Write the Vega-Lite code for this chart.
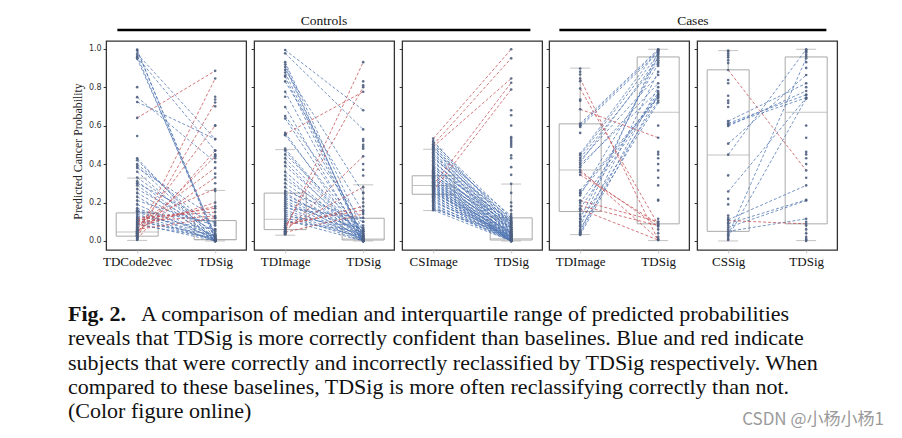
{
"$schema":"https://vega.github.io/schema/vega-lite/v6.json",
"padding":{"left":68,"top":13,"right":6,"bottom":5},
"background":"white",
"config":{"view":{"stroke":"#333333","strokeWidth":1.3},"axis":{"grid":false},"concat":{"spacing":2}},
"datasets":{
"boxes":[
{"p":1,"x":0,"lo":0.003,"q1":0.025,"med":0.047,"q3":0.146,"hi":0.327},
{"p":1,"x":1,"lo":0.0,"q1":0.006,"med":0.008,"q3":0.106,"hi":0.263},
{"p":2,"x":0,"lo":0.03,"q1":0.059,"med":0.113,"q3":0.249,"hi":0.475},
{"p":2,"x":1,"lo":0.0,"q1":0.005,"med":0.01,"q3":0.118,"hi":0.292},
{"p":3,"x":0,"lo":0.158,"q1":0.243,"med":0.289,"q3":0.339,"hi":0.477},
{"p":3,"x":1,"lo":0.0,"q1":0.005,"med":0.012,"q3":0.12,"hi":0.296},
{"p":4,"x":0,"lo":0.033,"q1":0.153,"med":0.369,"q3":0.609,"hi":0.899},
{"p":4,"x":1,"lo":0.002,"q1":0.089,"med":0.67,"q3":0.957,"hi":0.997},
{"p":5,"x":0,"lo":0.0,"q1":0.05,"med":0.447,"q3":0.89,"hi":0.99},
{"p":5,"x":1,"lo":0.002,"q1":0.089,"med":0.67,"q3":0.957,"hi":0.997}
],
"pairs":[
{"p":1,"a":0.995,"b":0.005,"c":"b"},{"p":1,"a":0.99,"b":0.02,"c":"b"},{"p":1,"a":0.974,"b":0.53,"c":"b"},{"p":1,"a":0.962,"b":0.01,"c":"b"},{"p":1,"a":0.956,"b":0.47,"c":"b"},{"p":1,"a":0.948,"b":0.03,"c":"b"},{"p":1,"a":0.748,"b":0.41,"c":"b"},{"p":1,"a":0.723,"b":0.53,"c":"b"},{"p":1,"a":0.43,"b":0.0,"c":"b"},{"p":1,"a":0.42,"b":0.02,"c":"b"},{"p":1,"a":0.4,"b":0.06,"c":"b"},{"p":1,"a":0.39,"b":0.01,"c":"b"},{"p":1,"a":0.38,"b":0.12,"c":"b"},{"p":1,"a":0.36,"b":0.0,"c":"b"},{"p":1,"a":0.33,"b":0.04,"c":"b"},{"p":1,"a":0.31,"b":0.01,"c":"b"},{"p":1,"a":0.3,"b":0.09,"c":"b"},{"p":1,"a":0.29,"b":0.0,"c":"b"},{"p":1,"a":0.27,"b":0.05,"c":"b"},{"p":1,"a":0.25,"b":0.02,"c":"b"},{"p":1,"a":0.23,"b":0.0,"c":"b"},{"p":1,"a":0.21,"b":0.08,"c":"b"},{"p":1,"a":0.19,"b":0.01,"c":"b"},{"p":1,"a":0.17,"b":0.03,"c":"b"},{"p":1,"a":0.16,"b":0.0,"c":"b"},{"p":1,"a":0.155,"b":0.1,"c":"b"},{"p":1,"a":0.15,"b":0.02,"c":"b"},{"p":1,"a":0.14,"b":0.0,"c":"b"},{"p":1,"a":0.13,"b":0.06,"c":"b"},{"p":1,"a":0.12,"b":0.01,"c":"b"},{"p":1,"a":0.11,"b":0.005,"c":"b"},{"p":1,"a":0.1,"b":0.03,"c":"b"},{"p":1,"a":0.09,"b":0.0,"c":"b"},{"p":1,"a":0.085,"b":0.015,"c":"b"},
{"p":1,"a":0.64,"b":0.885,"c":"r"},{"p":1,"a":0.03,"b":0.845,"c":"r"},{"p":1,"a":0.02,"b":0.72,"c":"r"},{"p":1,"a":0.06,"b":0.6,"c":"r"},{"p":1,"a":0.01,"b":0.47,"c":"r"},{"p":1,"a":0.04,"b":0.44,"c":"r"},{"p":1,"a":0.08,"b":0.38,"c":"r"},{"p":1,"a":0.05,"b":0.33,"c":"r"},{"p":1,"a":0.1,"b":0.27,"c":"r"},{"p":1,"a":0.07,"b":0.2,"c":"r"},{"p":1,"a":0.09,"b":0.18,"c":"r"},{"p":1,"a":0.11,"b":0.17,"c":"r"},{"p":1,"a":0.12,"b":0.15,"c":"r"},{"p":1,"a":0.1,"b":0.13,"c":"r"},{"p":1,"a":0.06,"b":0.12,"c":"r"},
{"p":1,"a":0.8,"b":0.75,"c":"n"},{"p":1,"a":0.546,"b":0.736,"c":"n"},{"p":1,"a":0.02,"b":0.7,"c":"n"},{"p":1,"a":0.01,"b":0.6,"c":"n"},{"p":1,"a":0.03,"b":0.45,"c":"n"},{"p":1,"a":0.04,"b":0.445,"c":"n"},{"p":1,"a":0.05,"b":0.43,"c":"n"},{"p":1,"a":0.06,"b":0.35,"c":"n"},{"p":1,"a":0.015,"b":0.3,"c":"n"},{"p":1,"a":0.025,"b":0.26,"c":"n"},{"p":1,"a":0.035,"b":0.01,"c":"n"},{"p":1,"a":0.045,"b":0.0,"c":"n"},{"p":1,"a":0.05,"b":0.005,"c":"n"},{"p":1,"a":0.055,"b":0.01,"c":"n"},{"p":1,"a":0.04,"b":0.0,"c":"n"},{"p":1,"a":0.03,"b":0.008,"c":"n"},{"p":1,"a":0.02,"b":0.003,"c":"n"},{"p":1,"a":0.01,"b":0.0,"c":"n"},{"p":1,"a":0.005,"b":0.002,"c":"n"},{"p":1,"a":0.065,"b":0.004,"c":"n"},{"p":1,"a":0.07,"b":0.0,"c":"n"},{"p":1,"a":0.075,"b":0.006,"c":"n"},
{"p":2,"a":0.993,"b":0.68,"c":"b"},{"p":2,"a":0.976,"b":0.58,"c":"b"},{"p":2,"a":0.93,"b":0.05,"c":"b"},{"p":2,"a":0.918,"b":0.0,"c":"b"},{"p":2,"a":0.905,"b":0.01,"c":"b"},{"p":2,"a":0.89,"b":0.25,"c":"b"},{"p":2,"a":0.876,"b":0.02,"c":"b"},{"p":2,"a":0.855,"b":0.0,"c":"b"},{"p":2,"a":0.83,"b":0.15,"c":"b"},{"p":2,"a":0.776,"b":0.03,"c":"b"},{"p":2,"a":0.697,"b":0.0,"c":"b"},{"p":2,"a":0.65,"b":0.1,"c":"b"},{"p":2,"a":0.637,"b":0.02,"c":"b"},{"p":2,"a":0.563,"b":0.0,"c":"b"},{"p":2,"a":0.55,"b":0.04,"c":"b"},{"p":2,"a":0.48,"b":0.01,"c":"b"},{"p":2,"a":0.47,"b":0.0,"c":"b"},{"p":2,"a":0.45,"b":0.06,"c":"b"},{"p":2,"a":0.43,"b":0.02,"c":"b"},{"p":2,"a":0.41,"b":0.0,"c":"b"},{"p":2,"a":0.39,"b":0.03,"c":"b"},{"p":2,"a":0.36,"b":0.01,"c":"b"},{"p":2,"a":0.34,"b":0.0,"c":"b"},{"p":2,"a":0.32,"b":0.05,"c":"b"},{"p":2,"a":0.3,"b":0.02,"c":"b"},{"p":2,"a":0.28,"b":0.0,"c":"b"},{"p":2,"a":0.26,"b":0.1,"c":"b"},{"p":2,"a":0.25,"b":0.01,"c":"b"},{"p":2,"a":0.24,"b":0.04,"c":"b"},{"p":2,"a":0.23,"b":0.0,"c":"b"},{"p":2,"a":0.22,"b":0.08,"c":"b"},{"p":2,"a":0.21,"b":0.02,"c":"b"},{"p":2,"a":0.2,"b":0.005,"c":"b"},{"p":2,"a":0.19,"b":0.06,"c":"b"},{"p":2,"a":0.18,"b":0.0,"c":"b"},{"p":2,"a":0.17,"b":0.12,"c":"b"},{"p":2,"a":0.16,"b":0.03,"c":"b"},{"p":2,"a":0.15,"b":0.01,"c":"b"},{"p":2,"a":0.14,"b":0.0,"c":"b"},{"p":2,"a":0.13,"b":0.07,"c":"b"},{"p":2,"a":0.12,"b":0.02,"c":"b"},{"p":2,"a":0.11,"b":0.0,"c":"b"},{"p":2,"a":0.1,"b":0.05,"c":"b"},
{"p":2,"a":0.555,"b":0.776,"c":"r"},{"p":2,"a":0.06,"b":0.93,"c":"r"},{"p":2,"a":0.07,"b":0.8,"c":"r"},{"p":2,"a":0.05,"b":0.44,"c":"r"},{"p":2,"a":0.065,"b":0.28,"c":"r"},{"p":2,"a":0.08,"b":0.18,"c":"r"},{"p":2,"a":0.045,"b":0.14,"c":"r"},{"p":2,"a":0.09,"b":0.16,"c":"r"},
{"p":2,"a":0.86,"b":0.83,"c":"n"},{"p":2,"a":0.75,"b":0.81,"c":"n"},{"p":2,"a":0.035,"b":0.53,"c":"n"},{"p":2,"a":0.04,"b":0.52,"c":"n"},{"p":2,"a":0.045,"b":0.5,"c":"n"},{"p":2,"a":0.05,"b":0.49,"c":"n"},{"p":2,"a":0.055,"b":0.48,"c":"n"},{"p":2,"a":0.06,"b":0.4,"c":"n"},{"p":2,"a":0.07,"b":0.37,"c":"n"},{"p":2,"a":0.04,"b":0.34,"c":"n"},{"p":2,"a":0.05,"b":0.25,"c":"n"},{"p":2,"a":0.06,"b":0.22,"c":"n"},{"p":2,"a":0.07,"b":0.2,"c":"n"},{"p":2,"a":0.08,"b":0.0,"c":"n"},{"p":2,"a":0.09,"b":0.01,"c":"n"},{"p":2,"a":0.1,"b":0.0,"c":"n"},{"p":2,"a":0.035,"b":0.005,"c":"n"},
{"p":3,"a":0.52,"b":0.08,"c":"b"},{"p":3,"a":0.512,"b":0.12,"c":"b"},{"p":3,"a":0.503,"b":0.1,"c":"b"},{"p":3,"a":0.494,"b":0.06,"c":"b"},{"p":3,"a":0.488,"b":0.11,"c":"b"},{"p":3,"a":0.481,"b":0.04,"c":"b"},{"p":3,"a":0.476,"b":0.09,"c":"b"},{"p":3,"a":0.47,"b":0.13,"c":"b"},{"p":3,"a":0.462,"b":0.07,"c":"b"},{"p":3,"a":0.455,"b":0.02,"c":"b"},{"p":3,"a":0.449,"b":0.1,"c":"b"},{"p":3,"a":0.441,"b":0.05,"c":"b"},{"p":3,"a":0.434,"b":0.08,"c":"b"},{"p":3,"a":0.428,"b":0.12,"c":"b"},{"p":3,"a":0.42,"b":0.03,"c":"b"},{"p":3,"a":0.413,"b":0.06,"c":"b"},{"p":3,"a":0.407,"b":0.1,"c":"b"},{"p":3,"a":0.399,"b":0.01,"c":"b"},{"p":3,"a":0.392,"b":0.07,"c":"b"},{"p":3,"a":0.386,"b":0.09,"c":"b"},{"p":3,"a":0.38,"b":0.04,"c":"b"},{"p":3,"a":0.374,"b":0.11,"c":"b"},{"p":3,"a":0.368,"b":0.02,"c":"b"},{"p":3,"a":0.362,"b":0.06,"c":"b"},{"p":3,"a":0.357,"b":0.08,"c":"b"},{"p":3,"a":0.351,"b":0.01,"c":"b"},{"p":3,"a":0.346,"b":0.05,"c":"b"},{"p":3,"a":0.34,"b":0.1,"c":"b"},{"p":3,"a":0.336,"b":0.03,"c":"b"},{"p":3,"a":0.331,"b":0.07,"c":"b"},{"p":3,"a":0.326,"b":0.0,"c":"b"},{"p":3,"a":0.322,"b":0.04,"c":"b"},{"p":3,"a":0.317,"b":0.09,"c":"b"},{"p":3,"a":0.313,"b":0.02,"c":"b"},{"p":3,"a":0.309,"b":0.06,"c":"b"},{"p":3,"a":0.305,"b":0.01,"c":"b"},{"p":3,"a":0.301,"b":0.04,"c":"b"},{"p":3,"a":0.297,"b":0.0,"c":"b"},{"p":3,"a":0.293,"b":0.07,"c":"b"},{"p":3,"a":0.289,"b":0.02,"c":"b"},{"p":3,"a":0.285,"b":0.0,"c":"b"},{"p":3,"a":0.281,"b":0.05,"c":"b"},{"p":3,"a":0.277,"b":0.01,"c":"b"},{"p":3,"a":0.273,"b":0.03,"c":"b"},{"p":3,"a":0.269,"b":0.0,"c":"b"},{"p":3,"a":0.265,"b":0.04,"c":"b"},{"p":3,"a":0.261,"b":0.01,"c":"b"},{"p":3,"a":0.257,"b":0.0,"c":"b"},{"p":3,"a":0.252,"b":0.02,"c":"b"},{"p":3,"a":0.247,"b":0.05,"c":"b"},{"p":3,"a":0.243,"b":0.0,"c":"b"},{"p":3,"a":0.238,"b":0.01,"c":"b"},{"p":3,"a":0.232,"b":0.03,"c":"b"},{"p":3,"a":0.226,"b":0.0,"c":"b"},{"p":3,"a":0.22,"b":0.02,"c":"b"},{"p":3,"a":0.213,"b":0.0,"c":"b"},{"p":3,"a":0.207,"b":0.01,"c":"b"},{"p":3,"a":0.2,"b":0.04,"c":"b"},{"p":3,"a":0.193,"b":0.0,"c":"b"},{"p":3,"a":0.186,"b":0.02,"c":"b"},{"p":3,"a":0.179,"b":0.0,"c":"b"},{"p":3,"a":0.172,"b":0.01,"c":"b"},{"p":3,"a":0.166,"b":0.03,"c":"b"},{"p":3,"a":0.16,"b":0.0,"c":"b"},
{"p":3,"a":0.532,"b":0.997,"c":"r"},{"p":3,"a":0.5,"b":0.95,"c":"r"},{"p":3,"a":0.49,"b":0.845,"c":"r"},{"p":3,"a":0.29,"b":0.823,"c":"r"},{"p":3,"a":0.26,"b":0.788,"c":"r"},
{"p":3,"a":0.33,"b":0.68,"c":"n"},{"p":3,"a":0.31,"b":0.654,"c":"n"},{"p":3,"a":0.35,"b":0.6,"c":"n"},{"p":3,"a":0.28,"b":0.54,"c":"n"},{"p":3,"a":0.36,"b":0.53,"c":"n"},{"p":3,"a":0.25,"b":0.52,"c":"n"},{"p":3,"a":0.38,"b":0.51,"c":"n"},{"p":3,"a":0.27,"b":0.5,"c":"n"},{"p":3,"a":0.32,"b":0.49,"c":"n"},{"p":3,"a":0.24,"b":0.445,"c":"n"},{"p":3,"a":0.34,"b":0.43,"c":"n"},{"p":3,"a":0.26,"b":0.384,"c":"n"},{"p":3,"a":0.3,"b":0.344,"c":"n"},{"p":3,"a":0.22,"b":0.297,"c":"n"},{"p":3,"a":0.29,"b":0.25,"c":"n"},{"p":3,"a":0.33,"b":0.2,"c":"n"},{"p":3,"a":0.21,"b":0.18,"c":"n"},{"p":3,"a":0.37,"b":0.16,"c":"n"},{"p":3,"a":0.23,"b":0.14,"c":"n"},
{"p":4,"a":0.61,"b":0.997,"c":"b"},{"p":4,"a":0.602,"b":0.99,"c":"b"},{"p":4,"a":0.593,"b":0.98,"c":"b"},{"p":4,"a":0.454,"b":0.995,"c":"b"},{"p":4,"a":0.445,"b":0.97,"c":"b"},{"p":4,"a":0.431,"b":0.93,"c":"b"},{"p":4,"a":0.419,"b":0.863,"c":"b"},{"p":4,"a":0.407,"b":0.95,"c":"b"},{"p":4,"a":0.397,"b":0.78,"c":"b"},{"p":4,"a":0.384,"b":0.82,"c":"b"},{"p":4,"a":0.263,"b":0.75,"c":"b"},{"p":4,"a":0.25,"b":0.744,"c":"b"},{"p":4,"a":0.237,"b":0.92,"c":"b"},{"p":4,"a":0.198,"b":0.77,"c":"b"},{"p":4,"a":0.17,"b":0.76,"c":"b"},{"p":4,"a":0.115,"b":0.96,"c":"b"},{"p":4,"a":0.1,"b":0.73,"c":"b"},{"p":4,"a":0.075,"b":0.985,"c":"b"},{"p":4,"a":0.049,"b":0.88,"c":"b"},{"p":4,"a":0.04,"b":0.8,"c":"b"},{"p":4,"a":0.031,"b":0.76,"c":"b"},{"p":4,"a":0.063,"b":0.72,"c":"b"},
{"p":4,"a":0.845,"b":0.005,"c":"r"},{"p":4,"a":0.793,"b":0.085,"c":"r"},{"p":4,"a":0.685,"b":0.537,"c":"r"},{"p":4,"a":0.37,"b":0.01,"c":"r"},{"p":4,"a":0.344,"b":0.09,"c":"r"},{"p":4,"a":0.358,"b":0.075,"c":"r"},{"p":4,"a":0.21,"b":0.1,"c":"r"},{"p":4,"a":0.184,"b":0.08,"c":"r"},{"p":4,"a":0.165,"b":0.005,"c":"r"},
{"p":4,"a":0.897,"b":0.99,"c":"n"},{"p":4,"a":0.88,"b":0.975,"c":"n"},{"p":4,"a":0.866,"b":0.94,"c":"n"},{"p":4,"a":0.831,"b":0.91,"c":"n"},{"p":4,"a":0.736,"b":0.6,"c":"n"},{"p":4,"a":0.729,"b":0.463,"c":"n"},{"p":4,"a":0.562,"b":0.45,"c":"n"},{"p":4,"a":0.25,"b":0.43,"c":"n"},{"p":4,"a":0.21,"b":0.4,"c":"n"},{"p":4,"a":0.155,"b":0.367,"c":"n"},{"p":4,"a":0.14,"b":0.329,"c":"n"},{"p":4,"a":0.13,"b":0.289,"c":"n"},{"p":4,"a":0.115,"b":0.214,"c":"n"},{"p":4,"a":0.1,"b":0.21,"c":"n"},{"p":4,"a":0.089,"b":0.115,"c":"n"},{"p":4,"a":0.08,"b":0.1,"c":"n"},{"p":4,"a":0.055,"b":0.06,"c":"n"},{"p":4,"a":0.045,"b":0.04,"c":"n"},{"p":4,"a":0.035,"b":0.02,"c":"n"},
{"p":5,"a":0.623,"b":0.82,"c":"b"},{"p":5,"a":0.612,"b":0.76,"c":"b"},{"p":5,"a":0.605,"b":0.745,"c":"b"},{"p":5,"a":0.598,"b":0.78,"c":"b"},{"p":5,"a":0.506,"b":0.863,"c":"b"},{"p":5,"a":0.449,"b":0.997,"c":"b"},{"p":5,"a":0.257,"b":0.744,"c":"b"},{"p":5,"a":0.11,"b":0.289,"c":"b"},{"p":5,"a":0.09,"b":0.214,"c":"b"},{"p":5,"a":0.07,"b":0.21,"c":"b"},{"p":5,"a":0.05,"b":0.115,"c":"b"},{"p":5,"a":0.03,"b":0.95,"c":"b"},{"p":5,"a":0.02,"b":0.74,"c":"b"},
{"p":5,"a":0.889,"b":0.367,"c":"r"},{"p":5,"a":0.106,"b":0.089,"c":"r"},
{"p":5,"a":0.99,"b":0.99,"c":"n"},{"p":5,"a":0.985,"b":0.98,"c":"n"},{"p":5,"a":0.975,"b":0.97,"c":"n"},{"p":5,"a":0.965,"b":0.96,"c":"n"},{"p":5,"a":0.955,"b":0.985,"c":"n"},{"p":5,"a":0.94,"b":0.93,"c":"n"},{"p":5,"a":0.925,"b":0.9,"c":"n"},{"p":5,"a":0.837,"b":0.8,"c":"n"},{"p":5,"a":0.82,"b":0.76,"c":"n"},{"p":5,"a":0.755,"b":0.6,"c":"n"},{"p":5,"a":0.73,"b":0.537,"c":"n"},{"p":5,"a":0.718,"b":0.463,"c":"n"},{"p":5,"a":0.697,"b":0.45,"c":"n"},{"p":5,"a":0.341,"b":0.43,"c":"n"},{"p":5,"a":0.219,"b":0.4,"c":"n"},{"p":5,"a":0.19,"b":0.329,"c":"n"},{"p":5,"a":0.132,"b":0.1,"c":"n"},{"p":5,"a":0.12,"b":0.08,"c":"n"},{"p":5,"a":0.095,"b":0.06,"c":"n"},{"p":5,"a":0.08,"b":0.04,"c":"n"},{"p":5,"a":0.06,"b":0.02,"c":"n"},{"p":5,"a":0.04,"b":0.01,"c":"n"},{"p":5,"a":0.01,"b":0.005,"c":"n"},{"p":5,"a":0.005,"b":0.0,"c":"n"}
],
"cap":[
{"k":"fig","line":1,"t":"Fig. 2."},
{"k":"l1","line":1,"t":"A comparison of median and interquartile range of predicted probabilities"},
{"k":"l","line":2,"t":"reveals that TDSig is more correctly confident than baselines. Blue and red indicate"},
{"k":"l","line":3,"t":"subjects that were correctly and incorrectly reclassified by TDSig respectively. When"},
{"k":"l","line":4,"t":"compared to these baselines, TDSig is more often reclassifying correctly than not."},
{"k":"l","line":5,"t":"(Color figure online)"}
]
},
"title":{"text":"CSDN @小杨小杨1","orient":"bottom","anchor":"end","font":"Noto Sans CJK SC","fontSize":17,"fontWeight":"normal","color":"#9a9a9a","offset":-12,"dx":-2},
"vconcat":[
{"hconcat":[
{"vconcat":[
{"width":413,"height":1,"view":{"stroke":null},"title":{"text":"Controls","font":"Liberation Serif","fontSize":13.5,"fontWeight":"normal","offset":1.5,"anchor":"middle","color":"#111"},"data":{"values":[{}]},"mark":{"type":"rule","strokeWidth":2.5,"color":"black"},"encoding":{"y":{"datum":0,"type":"quantitative","axis":null}}},
{"hconcat":[
{"width":140,"height":209,"layer":[
{"data":{"name":"boxes"},"transform":[{"filter":"datum.p==1"}],"mark":{"type":"rule","color":"#aaaaaa","strokeWidth":1},"encoding":{"x":{"field":"x","type":"quantitative","scale":{"domain":[-0.3333,1.3333],"nice":false,"zero":false},"axis":{"values":[0,1],"labelExpr":"datum.value==0?'TDCode2vec':'TDSig'","title":null,"domain":false,"tickSize":3,"tickColor":"#cccccc","labelFont":"Liberation Serif","labelFontSize":13,"labelColor":"#111","labelPadding":2}},"y":{"field":"lo","type":"quantitative","scale":{"domain":[-0.047,1.04],"nice":false,"zero":false},"axis":{"values":[0,0.2,0.4,0.6,0.8,1],"format":".1f","labelFont":"DejaVu Sans","labelFontSize":8,"labelColor":"#333","tickSize":3,"tickColor":"#333","domain":false,"labelPadding":2,"title":"Predicted Cancer Probability","titleFont":"Liberation Serif","titleFontSize":11.8,"titleFontWeight":"normal","titleColor":"#222","titlePadding":5,"titleY":110}},"y2":{"field":"hi"}}},
{"data":{"name":"boxes"},"transform":[{"filter":"datum.p==1"}],"mark":{"type":"bar","size":42,"fill":"white","stroke":"#aaaaaa","strokeWidth":1},"encoding":{"x":{"field":"x","type":"quantitative"},"y":{"field":"q1","type":"quantitative"},"y2":{"field":"q3"}}},
{"data":{"name":"boxes"},"transform":[{"filter":"datum.p==1"}],"mark":{"type":"tick","orient":"horizontal","size":42,"thickness":1,"color":"#aaaaaa"},"encoding":{"x":{"field":"x","type":"quantitative"},"y":{"field":"med","type":"quantitative"}}},
{"data":{"name":"boxes"},"transform":[{"filter":"datum.p==1"}],"mark":{"type":"tick","orient":"horizontal","size":20,"thickness":1,"color":"#aaaaaa"},"encoding":{"x":{"field":"x","type":"quantitative"},"y":{"field":"lo","type":"quantitative"}}},
{"data":{"name":"boxes"},"transform":[{"filter":"datum.p==1"}],"mark":{"type":"tick","orient":"horizontal","size":20,"thickness":1,"color":"#aaaaaa"},"encoding":{"x":{"field":"x","type":"quantitative"},"y":{"field":"hi","type":"quantitative"}}},
{"data":{"name":"pairs"},"transform":[{"filter":"datum.p==1 && datum.c!='n'"}],"mark":{"type":"rule","strokeWidth":0.9,"strokeDash":[3,2],"opacity":0.85},"encoding":{"x":{"datum":0,"type":"quantitative"},"x2":{"datum":1},"y":{"field":"a","type":"quantitative"},"y2":{"field":"b"},"color":{"field":"c","type":"nominal","scale":{"domain":["b","r"],"range":["#4c72b0","#c44e52"]},"legend":null}}},
{"data":{"name":"pairs"},"transform":[{"filter":"datum.p==1"}],"mark":{"type":"circle","size":7,"color":"#4f5f7f","opacity":0.9},"encoding":{"x":{"datum":0,"type":"quantitative"},"y":{"field":"a","type":"quantitative"}}},
{"data":{"name":"pairs"},"transform":[{"filter":"datum.p==1"}],"mark":{"type":"circle","size":7,"color":"#4f5f7f","opacity":0.9},"encoding":{"x":{"datum":1,"type":"quantitative"},"y":{"field":"b","type":"quantitative"}}}
]},
{"width":140,"height":209,"layer":[
{"data":{"name":"boxes"},"transform":[{"filter":"datum.p==2"}],"mark":{"type":"rule","color":"#aaaaaa","strokeWidth":1},"encoding":{"x":{"field":"x","type":"quantitative","scale":{"domain":[-0.3333,1.3333],"nice":false,"zero":false},"axis":{"values":[0,1],"labelExpr":"datum.value==0?'TDImage':'TDSig'","title":null,"domain":false,"tickSize":3,"tickColor":"#cccccc","labelFont":"Liberation Serif","labelFontSize":13,"labelColor":"#111","labelPadding":2}},"y":{"field":"lo","type":"quantitative","scale":{"domain":[-0.047,1.04],"nice":false,"zero":false},"axis":{"values":[0,0.2,0.4,0.6,0.8,1],"labels":false,"tickSize":3,"tickColor":"#333","domain":false,"title":null}},"y2":{"field":"hi"}}},
{"data":{"name":"boxes"},"transform":[{"filter":"datum.p==2"}],"mark":{"type":"bar","size":42,"fill":"white","stroke":"#aaaaaa","strokeWidth":1},"encoding":{"x":{"field":"x","type":"quantitative"},"y":{"field":"q1","type":"quantitative"},"y2":{"field":"q3"}}},
{"data":{"name":"boxes"},"transform":[{"filter":"datum.p==2"}],"mark":{"type":"tick","orient":"horizontal","size":42,"thickness":1,"color":"#aaaaaa"},"encoding":{"x":{"field":"x","type":"quantitative"},"y":{"field":"med","type":"quantitative"}}},
{"data":{"name":"boxes"},"transform":[{"filter":"datum.p==2"}],"mark":{"type":"tick","orient":"horizontal","size":20,"thickness":1,"color":"#aaaaaa"},"encoding":{"x":{"field":"x","type":"quantitative"},"y":{"field":"lo","type":"quantitative"}}},
{"data":{"name":"boxes"},"transform":[{"filter":"datum.p==2"}],"mark":{"type":"tick","orient":"horizontal","size":20,"thickness":1,"color":"#aaaaaa"},"encoding":{"x":{"field":"x","type":"quantitative"},"y":{"field":"hi","type":"quantitative"}}},
{"data":{"name":"pairs"},"transform":[{"filter":"datum.p==2 && datum.c!='n'"}],"mark":{"type":"rule","strokeWidth":0.9,"strokeDash":[3,2],"opacity":0.85},"encoding":{"x":{"datum":0,"type":"quantitative"},"x2":{"datum":1},"y":{"field":"a","type":"quantitative"},"y2":{"field":"b"},"color":{"field":"c","type":"nominal","scale":{"domain":["b","r"],"range":["#4c72b0","#c44e52"]},"legend":null}}},
{"data":{"name":"pairs"},"transform":[{"filter":"datum.p==2"}],"mark":{"type":"circle","size":7,"color":"#4f5f7f","opacity":0.9},"encoding":{"x":{"datum":0,"type":"quantitative"},"y":{"field":"a","type":"quantitative"}}},
{"data":{"name":"pairs"},"transform":[{"filter":"datum.p==2"}],"mark":{"type":"circle","size":7,"color":"#4f5f7f","opacity":0.9},"encoding":{"x":{"datum":1,"type":"quantitative"},"y":{"field":"b","type":"quantitative"}}}
]},
{"width":140,"height":209,"layer":[
{"data":{"name":"boxes"},"transform":[{"filter":"datum.p==3"}],"mark":{"type":"rule","color":"#aaaaaa","strokeWidth":1},"encoding":{"x":{"field":"x","type":"quantitative","scale":{"domain":[-0.3333,1.3333],"nice":false,"zero":false},"axis":{"values":[0,1],"labelExpr":"datum.value==0?'CSImage':'TDSig'","title":null,"domain":false,"tickSize":3,"tickColor":"#cccccc","labelFont":"Liberation Serif","labelFontSize":13,"labelColor":"#111","labelPadding":2}},"y":{"field":"lo","type":"quantitative","scale":{"domain":[-0.047,1.04],"nice":false,"zero":false},"axis":{"values":[0,0.2,0.4,0.6,0.8,1],"labels":false,"tickSize":3,"tickColor":"#333","domain":false,"title":null}},"y2":{"field":"hi"}}},
{"data":{"name":"boxes"},"transform":[{"filter":"datum.p==3"}],"mark":{"type":"bar","size":42,"fill":"white","stroke":"#aaaaaa","strokeWidth":1},"encoding":{"x":{"field":"x","type":"quantitative"},"y":{"field":"q1","type":"quantitative"},"y2":{"field":"q3"}}},
{"data":{"name":"boxes"},"transform":[{"filter":"datum.p==3"}],"mark":{"type":"tick","orient":"horizontal","size":42,"thickness":1,"color":"#aaaaaa"},"encoding":{"x":{"field":"x","type":"quantitative"},"y":{"field":"med","type":"quantitative"}}},
{"data":{"name":"boxes"},"transform":[{"filter":"datum.p==3"}],"mark":{"type":"tick","orient":"horizontal","size":20,"thickness":1,"color":"#aaaaaa"},"encoding":{"x":{"field":"x","type":"quantitative"},"y":{"field":"lo","type":"quantitative"}}},
{"data":{"name":"boxes"},"transform":[{"filter":"datum.p==3"}],"mark":{"type":"tick","orient":"horizontal","size":20,"thickness":1,"color":"#aaaaaa"},"encoding":{"x":{"field":"x","type":"quantitative"},"y":{"field":"hi","type":"quantitative"}}},
{"data":{"name":"pairs"},"transform":[{"filter":"datum.p==3 && datum.c!='n'"}],"mark":{"type":"rule","strokeWidth":0.9,"strokeDash":[3,2],"opacity":0.85},"encoding":{"x":{"datum":0,"type":"quantitative"},"x2":{"datum":1},"y":{"field":"a","type":"quantitative"},"y2":{"field":"b"},"color":{"field":"c","type":"nominal","scale":{"domain":["b","r"],"range":["#4c72b0","#c44e52"]},"legend":null}}},
{"data":{"name":"pairs"},"transform":[{"filter":"datum.p==3"}],"mark":{"type":"circle","size":7,"color":"#4f5f7f","opacity":0.9},"encoding":{"x":{"datum":0,"type":"quantitative"},"y":{"field":"a","type":"quantitative"}}},
{"data":{"name":"pairs"},"transform":[{"filter":"datum.p==3"}],"mark":{"type":"circle","size":7,"color":"#4f5f7f","opacity":0.9},"encoding":{"x":{"datum":1,"type":"quantitative"},"y":{"field":"b","type":"quantitative"}}}
]}
],"spacing":2}
],"spacing":8,"center":true},
{"vconcat":[
{"width":267,"height":1,"view":{"stroke":null},"title":{"text":"Cases","font":"Liberation Serif","fontSize":13.5,"fontWeight":"normal","offset":1.5,"anchor":"middle","color":"#111"},"data":{"values":[{}]},"mark":{"type":"rule","strokeWidth":2.5,"color":"black"},"encoding":{"y":{"datum":0,"type":"quantitative","axis":null}}},
{"hconcat":[
{"width":140,"height":209,"layer":[
{"data":{"name":"boxes"},"transform":[{"filter":"datum.p==4"}],"mark":{"type":"rule","color":"#aaaaaa","strokeWidth":1},"encoding":{"x":{"field":"x","type":"quantitative","scale":{"domain":[-0.3333,1.3333],"nice":false,"zero":false},"axis":{"values":[0,1],"labelExpr":"datum.value==0?'TDImage':'TDSig'","title":null,"domain":false,"tickSize":3,"tickColor":"#cccccc","labelFont":"Liberation Serif","labelFontSize":13,"labelColor":"#111","labelPadding":2}},"y":{"field":"lo","type":"quantitative","scale":{"domain":[-0.047,1.04],"nice":false,"zero":false},"axis":{"values":[0,0.2,0.4,0.6,0.8,1],"labels":false,"tickSize":3,"tickColor":"#333","domain":false,"title":null}},"y2":{"field":"hi"}}},
{"data":{"name":"boxes"},"transform":[{"filter":"datum.p==4"}],"mark":{"type":"bar","size":42,"fill":"white","stroke":"#aaaaaa","strokeWidth":1},"encoding":{"x":{"field":"x","type":"quantitative"},"y":{"field":"q1","type":"quantitative"},"y2":{"field":"q3"}}},
{"data":{"name":"boxes"},"transform":[{"filter":"datum.p==4"}],"mark":{"type":"tick","orient":"horizontal","size":42,"thickness":1,"color":"#aaaaaa"},"encoding":{"x":{"field":"x","type":"quantitative"},"y":{"field":"med","type":"quantitative"}}},
{"data":{"name":"boxes"},"transform":[{"filter":"datum.p==4"}],"mark":{"type":"tick","orient":"horizontal","size":20,"thickness":1,"color":"#aaaaaa"},"encoding":{"x":{"field":"x","type":"quantitative"},"y":{"field":"lo","type":"quantitative"}}},
{"data":{"name":"boxes"},"transform":[{"filter":"datum.p==4"}],"mark":{"type":"tick","orient":"horizontal","size":20,"thickness":1,"color":"#aaaaaa"},"encoding":{"x":{"field":"x","type":"quantitative"},"y":{"field":"hi","type":"quantitative"}}},
{"data":{"name":"pairs"},"transform":[{"filter":"datum.p==4 && datum.c!='n'"}],"mark":{"type":"rule","strokeWidth":0.9,"strokeDash":[3,2],"opacity":0.85},"encoding":{"x":{"datum":0,"type":"quantitative"},"x2":{"datum":1},"y":{"field":"a","type":"quantitative"},"y2":{"field":"b"},"color":{"field":"c","type":"nominal","scale":{"domain":["b","r"],"range":["#4c72b0","#c44e52"]},"legend":null}}},
{"data":{"name":"pairs"},"transform":[{"filter":"datum.p==4"}],"mark":{"type":"circle","size":7,"color":"#4f5f7f","opacity":0.9},"encoding":{"x":{"datum":0,"type":"quantitative"},"y":{"field":"a","type":"quantitative"}}},
{"data":{"name":"pairs"},"transform":[{"filter":"datum.p==4"}],"mark":{"type":"circle","size":7,"color":"#4f5f7f","opacity":0.9},"encoding":{"x":{"datum":1,"type":"quantitative"},"y":{"field":"b","type":"quantitative"}}}
]},
{"width":140,"height":209,"layer":[
{"data":{"name":"boxes"},"transform":[{"filter":"datum.p==5"}],"mark":{"type":"rule","color":"#aaaaaa","strokeWidth":1},"encoding":{"x":{"field":"x","type":"quantitative","scale":{"domain":[-0.3333,1.3333],"nice":false,"zero":false},"axis":{"values":[0,1],"labelExpr":"datum.value==0?'CSSig':'TDSig'","title":null,"domain":false,"tickSize":3,"tickColor":"#cccccc","labelFont":"Liberation Serif","labelFontSize":13,"labelColor":"#111","labelPadding":2}},"y":{"field":"lo","type":"quantitative","scale":{"domain":[-0.047,1.04],"nice":false,"zero":false},"axis":{"values":[0,0.2,0.4,0.6,0.8,1],"labels":false,"tickSize":3,"tickColor":"#333","domain":false,"title":null}},"y2":{"field":"hi"}}},
{"data":{"name":"boxes"},"transform":[{"filter":"datum.p==5"}],"mark":{"type":"bar","size":42,"fill":"white","stroke":"#aaaaaa","strokeWidth":1},"encoding":{"x":{"field":"x","type":"quantitative"},"y":{"field":"q1","type":"quantitative"},"y2":{"field":"q3"}}},
{"data":{"name":"boxes"},"transform":[{"filter":"datum.p==5"}],"mark":{"type":"tick","orient":"horizontal","size":42,"thickness":1,"color":"#aaaaaa"},"encoding":{"x":{"field":"x","type":"quantitative"},"y":{"field":"med","type":"quantitative"}}},
{"data":{"name":"boxes"},"transform":[{"filter":"datum.p==5"}],"mark":{"type":"tick","orient":"horizontal","size":20,"thickness":1,"color":"#aaaaaa"},"encoding":{"x":{"field":"x","type":"quantitative"},"y":{"field":"lo","type":"quantitative"}}},
{"data":{"name":"boxes"},"transform":[{"filter":"datum.p==5"}],"mark":{"type":"tick","orient":"horizontal","size":20,"thickness":1,"color":"#aaaaaa"},"encoding":{"x":{"field":"x","type":"quantitative"},"y":{"field":"hi","type":"quantitative"}}},
{"data":{"name":"pairs"},"transform":[{"filter":"datum.p==5 && datum.c!='n'"}],"mark":{"type":"rule","strokeWidth":0.9,"strokeDash":[3,2],"opacity":0.85},"encoding":{"x":{"datum":0,"type":"quantitative"},"x2":{"datum":1},"y":{"field":"a","type":"quantitative"},"y2":{"field":"b"},"color":{"field":"c","type":"nominal","scale":{"domain":["b","r"],"range":["#4c72b0","#c44e52"]},"legend":null}}},
{"data":{"name":"pairs"},"transform":[{"filter":"datum.p==5"}],"mark":{"type":"circle","size":7,"color":"#4f5f7f","opacity":0.9},"encoding":{"x":{"datum":0,"type":"quantitative"},"y":{"field":"a","type":"quantitative"}}},
{"data":{"name":"pairs"},"transform":[{"filter":"datum.p==5"}],"mark":{"type":"circle","size":7,"color":"#4f5f7f","opacity":0.9},"encoding":{"x":{"datum":1,"type":"quantitative"},"y":{"field":"b","type":"quantitative"}}}
]}
],"spacing":2}
],"spacing":8,"center":true}
],"spacing":2},
{"width":780,"height":122,"view":{"stroke":null},"data":{"name":"cap"},"layer":[
{"transform":[{"filter":"datum.k=='fig'"}],"mark":{"type":"text","align":"left","baseline":"middle","font":"Liberation Serif","fontSize":22,"fontWeight":"bold","color":"#111","dx":-38},"encoding":{"x":{"value":0},"y":{"field":"line","type":"ordinal","axis":null},"text":{"field":"t"}}},
{"transform":[{"filter":"datum.k=='l1'"}],"mark":{"type":"text","align":"left","baseline":"middle","font":"Liberation Serif","fontSize":22,"dx":35,"color":"#111"},"encoding":{"x":{"value":0},"y":{"field":"line","type":"ordinal","axis":null},"text":{"field":"t"}}},
{"transform":[{"filter":"datum.k=='l'"}],"mark":{"type":"text","align":"left","baseline":"middle","font":"Liberation Serif","fontSize":22,"color":"#111","dx":-38},"encoding":{"x":{"value":0},"y":{"field":"line","type":"ordinal","axis":null},"text":{"field":"t"}}}
]}
],"spacing":32.5,"center":false
}
